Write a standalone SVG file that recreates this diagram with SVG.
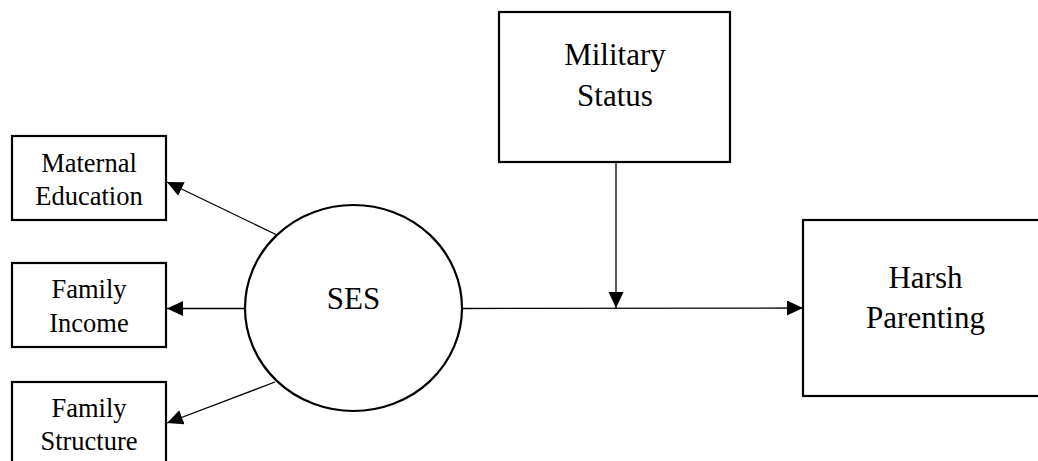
<svg xmlns="http://www.w3.org/2000/svg" width="1038" height="461" viewBox="0 0 1038 461">
  <style>
    .box { fill: #fff; stroke: #000; stroke-width: 2.2; }
    .lbl { font-family: "Liberation Serif", "Times New Roman", serif; fill: #000; text-anchor: middle; }
    .sm { font-size: 26.5px; }
    .lg { font-size: 31px; }
    .edge { stroke: #000; stroke-width: 1.3; fill: none; marker-end: url(#arrow); }
  </style>
  <defs>
    <marker id="arrow" markerUnits="userSpaceOnUse" markerWidth="16" markerHeight="16" refX="16" refY="7.5" orient="auto">
      <path d="M0,0 L16,7.5 L0,15 Z" fill="#000"/>
    </marker>
  </defs>
  <rect width="1038" height="461" fill="#fff"/>

  <g id="connectors">
    <line class="edge" x1="277" y1="235" x2="167" y2="182"/>
    <line class="edge" x1="245" y1="308.5" x2="167" y2="308.5"/>
    <line class="edge" x1="275" y1="382" x2="167" y2="423"/>
    <line class="edge" x1="462" y1="308.5" x2="803" y2="308"/>
    <line class="edge" x1="616" y1="162" x2="616" y2="308"/>
  </g>

  <g id="maternal-education">
    <rect class="box" x="12" y="136" width="154" height="84"/>
    <text class="lbl sm" x="89" y="172">Maternal</text>
    <text class="lbl sm" x="89" y="205">Education</text>
  </g>

  <g id="family-income">
    <rect class="box" x="12" y="263" width="154" height="84"/>
    <text class="lbl sm" x="89" y="298">Family</text>
    <text class="lbl sm" x="89" y="332">Income</text>
  </g>

  <g id="family-structure">
    <rect class="box" x="12" y="382" width="154" height="84"/>
    <text class="lbl sm" x="89" y="417">Family</text>
    <text class="lbl sm" x="89" y="450">Structure</text>
  </g>

  <g id="ses">
    <ellipse class="box" cx="353.5" cy="308" rx="108.5" ry="103"/>
    <text class="lbl lg" x="353.5" y="309">SES</text>
  </g>

  <g id="military-status">
    <rect class="box" x="499" y="12" width="231" height="150"/>
    <text class="lbl lg" x="615" y="65">Military</text>
    <text class="lbl lg" x="615" y="106">Status</text>
  </g>

  <g id="harsh-parenting">
    <rect class="box" x="803" y="220" width="245" height="176"/>
    <text class="lbl lg" x="925.5" y="288">Harsh</text>
    <text class="lbl lg" x="925.5" y="328">Parenting</text>
  </g>
</svg>
